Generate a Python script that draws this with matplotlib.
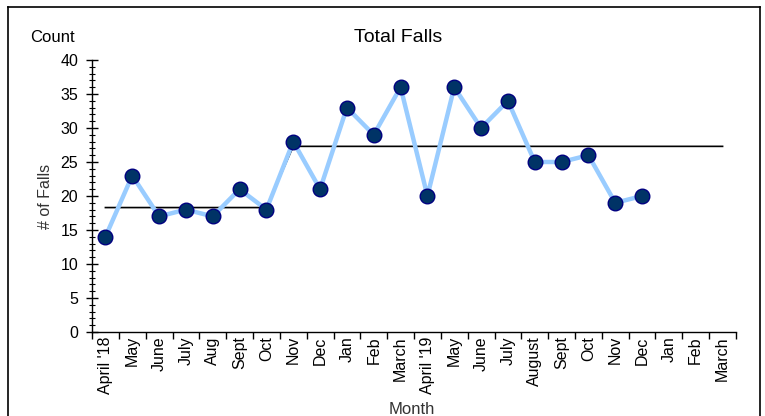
import matplotlib
matplotlib.use('Agg')
import matplotlib.pyplot as plt
from matplotlib.lines import Line2D
import numpy as np

plt.rcParams['font.family'] = ['Liberation Sans', 'DejaVu Sans']

months = ["April '18", 'May', 'June', 'July', 'Aug', 'Sept', 'Oct', 'Nov', 'Dec',
          'Jan', 'Feb', 'March', "April '19", 'May', 'June', 'July', 'August',
          'Sept', 'Oct', 'Nov', 'Dec', 'Jan', 'Feb', 'March']
falls = [14, 23, 17, 18, 17, 21, 18, 28, 21, 33, 29, 36, 20, 36, 30, 34, 25,
         25, 26, 19, 20, np.nan, np.nan, np.nan]
centre = [18.3] * 7 + [27.3] * 17

x = np.arange(len(months))

fig = plt.figure(figsize=(7.65, 4.16), dpi=100)
ax = fig.add_axes([92 / 765, 1 - 332 / 416, (736 - 92) / 765, (332 - 60) / 416])

ax.plot(x, centre, color='black', lw=1.2, zorder=2)
ax.plot(x, falls, color='#99ccff', lw=3.2, zorder=3,
        marker='o', ms=10.5, mfc='#003366', mec='#000080', mew=1)

ax.set_xlim(-0.5, len(months) - 0.5)
ax.set_ylim(0, 40)
ax.set_yticks(np.arange(0, 41, 5))
ax.set_yticks(np.arange(0, 41, 1), minor=True)
ax.set_xticks(x)
ax.set_xticklabels(months, rotation=90)
ax.set_xticks(np.arange(-0.5, len(months), 1), minor=True)

ax.tick_params(axis='y', which='major', direction='inout', length=8, width=1,
               labelsize=11.5, pad=6)
ax.tick_params(axis='y', which='minor', direction='inout', length=4, width=0.8)
ax.tick_params(axis='x', which='major', length=0, labelsize=11.5, pad=3)
ax.tick_params(axis='x', which='minor', direction='out', length=5, width=1)

for s in ['top', 'right']:
    ax.spines[s].set_visible(False)
for s in ['left', 'bottom']:
    ax.spines[s].set_linewidth(1)

fig.text(398 / 765, 1 - 37 / 416, 'Total Falls', ha='center', va='center', fontsize=14)
fig.text(52 / 765, 1 - 38 / 416, 'Count', ha='center', va='center', fontsize=12)
fig.text(45 / 765, 1 - 196 / 416, '# of Falls', ha='center', va='center',
         rotation=90, fontsize=11.5, color='#333333')
fig.text(412 / 765, 1 - 410 / 416, 'Month', ha='center', va='center', fontsize=12,
         color='#333333')

# outer border
for xs, ys in [((8 / 765, 8 / 765), (0, 1 - 7 / 416)),
               ((8 / 765, 760 / 765), (1 - 7 / 416, 1 - 7 / 416)),
               ((760 / 765, 760 / 765), (0, 1 - 7 / 416))]:
    fig.add_artist(Line2D(xs, ys, color='black', lw=1.2))

fig.savefig('out.png', dpi=100)
